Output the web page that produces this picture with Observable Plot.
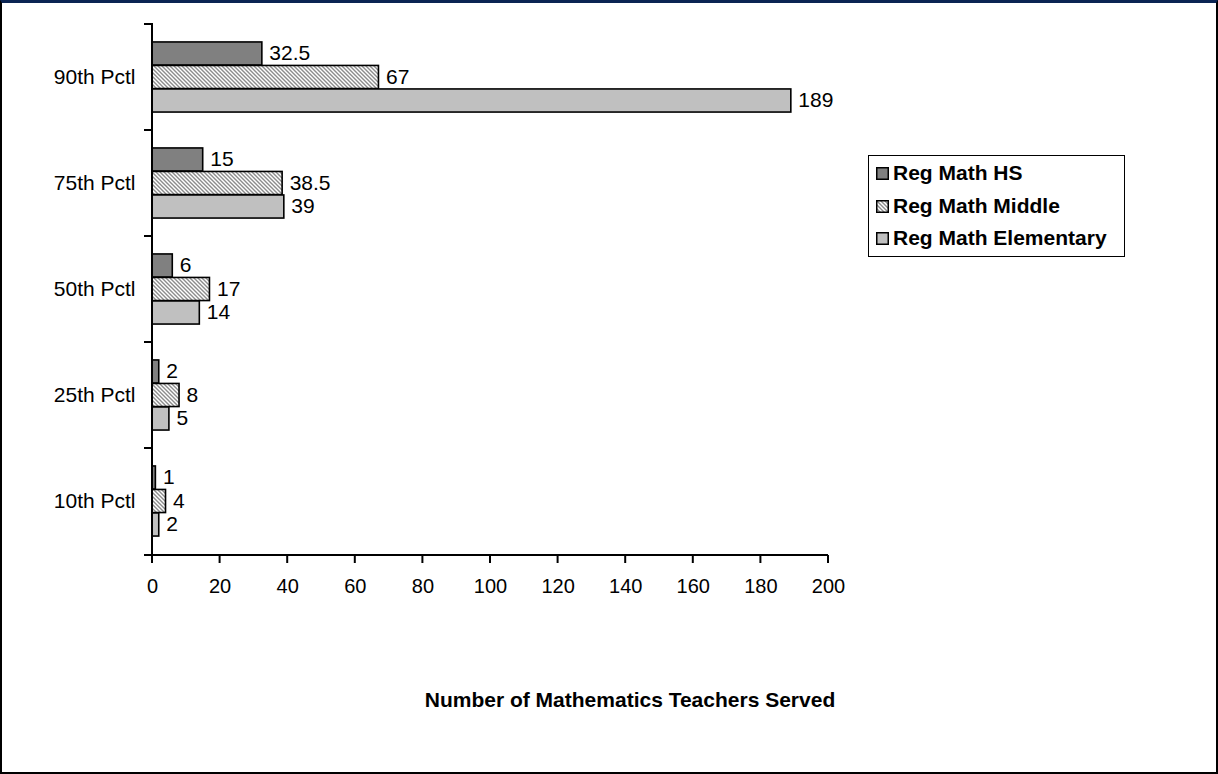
<!DOCTYPE html>
<html>
<head>
<meta charset="utf-8">
<script src="https://cdn.jsdelivr.net/npm/d3@7"></script>
<script src="https://cdn.jsdelivr.net/npm/@observablehq/plot@0.6"></script>
<style>
  body { margin: 0; background: #fff; font-family: "Liberation Sans", Arial, sans-serif; }
  #wrap { position: relative; width: 1218px; height: 774px; overflow: hidden; background: #fff; }
  #chart { position: absolute; left: 0; top: 0; }
  #frame { position: absolute; left: 0; top: 0; width: 1218px; height: 774px; box-sizing: border-box;
           border: 2px solid #000; border-top: 3px solid #0b2453; pointer-events: none; }
  #title { position: absolute; left: 330px; width: 600px; top: 688px; text-align: center;
           font-weight: bold; font-size: 21px; color: #000; }
  #legend { position: absolute; left: 868px; top: 155px; width: 257px; height: 102px; box-sizing: border-box;
            border: 1px solid #000; background: #fff; }
  .row { position: absolute; left: 0; height: 24px; display: flex; align-items: center; }
  .row svg { margin-left: 7px; margin-right: 4px; }
  .row span { font-weight: bold; font-size: 21px; color: #000; }
  #chart svg g[aria-label="y-axis tick label"] text { font-size: 21px; }
</style>
</head>
<body>
<div id="wrap">
  <div id="chart"></div>
  <div id="title"></div>
  <div id="legend"></div>
  <div id="frame"></div>
</div>
<script>
const categories = ["90th Pctl", "75th Pctl", "50th Pctl", "25th Pctl", "10th Pctl"];
const seriesNames = ["Reg Math HS", "Reg Math Middle", "Reg Math Elementary"];
const hsValues = [32.5, 15, 6, 2, 1];
const middleValues = [67, 38.5, 17, 8, 4];
const elementaryValues = [189, 39, 14, 5, 2];
const xTicks = [0, 20, 40, 60, 80, 100, 120, 140, 160, 180, 200];
const axisTitle = "Number of Mathematics Teachers Served";

const seriesValues = [hsValues, middleValues, elementaryValues];
const seriesFills = ["#808080", "url(#hatch)", "#c0c0c0"];

const W = 1218, H = 774;
const M = { top: 23, right: 390, bottom: 219, left: 152 };
const band = (H - M.top - M.bottom) / categories.length;
const BAR = 23.5;
const outer = (band - BAR * seriesNames.length) / 2;

const tables = seriesValues.map((vals, s) =>
  categories.map((c, i) => ({ category: c, series: seriesNames[s], value: vals[i] }))
);

const barMarks = tables.map((rows, s) =>
  Plot.barX(rows, {
    x: "value", y: "category",
    fill: seriesFills[s], stroke: "black", strokeWidth: 1.6,
    insetTop: outer + s * BAR,
    insetBottom: band - outer - (s + 1) * BAR
  })
);
const textMarks = tables.map((rows, s) =>
  Plot.text(rows, {
    x: "value", y: "category", text: d => String(d.value),
    dx: 7, dy: (s - 1) * BAR - 0.5, textAnchor: "start", fontSize: 21, fill: "black"
  })
);

const axisLines = (index, scales, values, dims) => {
  const g = d3.create("svg:g").attr("stroke", "black").attr("stroke-width", 2).attr("fill", "none");
  const x0 = scales.x(0), x1 = scales.x(200);
  const top = dims.marginTop, bottom = dims.height - dims.marginBottom;
  g.append("path").attr("d", `M${x0},${top}V${bottom}H${x1}`);
  const bounds = categories.map(c => scales.y(c)).concat([bottom]);
  for (const b of bounds) g.append("path").attr("d", `M${x0 - 8},${b}H${x0}`);
  for (const t of xTicks) g.append("path").attr("d", `M${scales.x(t)},${bottom}V${bottom + 8}`);
  return g.node();
};

const chart = Plot.plot({
  width: W, height: H,
  marginTop: M.top, marginRight: M.right, marginBottom: M.bottom, marginLeft: M.left,
  style: { fontFamily: "'Liberation Sans', Arial, sans-serif", fontSize: "20px", color: "black", background: "white" },
  x: { domain: [0, 200], ticks: xTicks, tickSize: 0, tickPadding: 23, tickFormat: d => String(d), label: null },
  y: { domain: categories, padding: 0, tickSize: 0, tickPadding: 17, label: null },
  marks: [...barMarks, ...textMarks, axisLines]
});

const svgEl = chart.tagName.toLowerCase() === "svg" ? chart : chart.querySelector("svg");
svgEl.insertAdjacentHTML("afterbegin",
  `<defs><pattern id="hatch" patternUnits="userSpaceOnUse" width="4" height="4">
     <rect width="4" height="4" fill="white"/>
     <path d="M-1,-1L5,5M-1,3L1,5M3,-1L5,1" stroke="#8c8c8c" stroke-width="1.4"/>
   </pattern></defs>`);
document.getElementById("chart").appendChild(chart);

document.getElementById("title").textContent = axisTitle;

const legend = document.getElementById("legend");
const rowTops = [5, 38, 70];
seriesNames.forEach((name, s) => {
  const row = document.createElement("div");
  row.className = "row";
  row.style.top = rowTops[s] + "px";
  const fill = s === 1 ? "url(#hatch2)" : seriesFills[s];
  row.innerHTML = `<svg width="13" height="13" viewBox="0 0 13 13">
      <defs><pattern id="hatch2" patternUnits="userSpaceOnUse" width="4" height="4">
        <rect width="4" height="4" fill="white"/>
        <path d="M-1,-1L5,5M-1,3L1,5M3,-1L5,1" stroke="#8c8c8c" stroke-width="1.4"/>
      </pattern></defs>
      <rect x="0.75" y="0.75" width="11.5" height="11.5" fill="${fill}" stroke="black" stroke-width="1.5"/>
    </svg><span></span>`;
  row.querySelector("span").textContent = name;
  legend.appendChild(row);
});
</script>
</body>
</html>
